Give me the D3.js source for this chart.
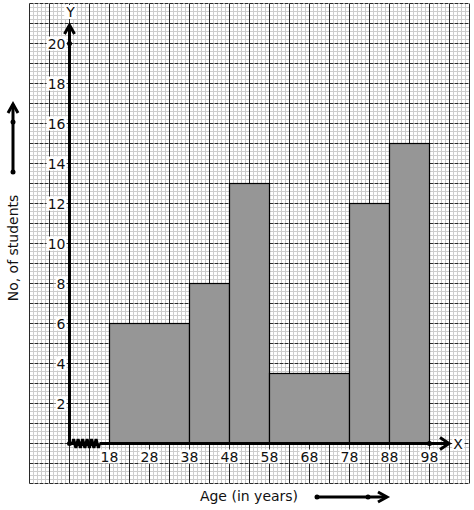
<!DOCTYPE html>
<html>
<head>
<meta charset="utf-8">
<script src="https://cdn.jsdelivr.net/npm/d3@7"></script>
<style>
  html, body { margin: 0; padding: 0; background: #fff; }
  svg { display: block; font-family: "DejaVu Sans", sans-serif; }
  .minor { stroke: #cdcdcd; stroke-width: 1; }
  .major-v { stroke: #2a2a2a; stroke-width: 1; }
  .major-h { stroke: #2a2a2a; stroke-width: 1; stroke-dasharray: 4,1; }
  .bar { fill: #969696; stroke: #000; stroke-width: 1.2; }
  .axis-line { stroke: #000; stroke-width: 3; fill: none; }
  .lbl { font-size: 14px; fill: #111; }
</style>
</head>
<body>
<svg id="chart" width="474" height="510"></svg>
<script>
// class boundaries and frequencies (unequal class widths)
const binEdges = [18, 38, 48, 58, 78, 88, 98];
const frequencies = [6, 8, 13, 3.5, 12, 15];
const xTicks = [18, 28, 38, 48, 58, 68, 78, 88, 98];
const yTicks = [2, 4, 6, 8, 10, 12, 14, 16, 18, 20];
const xTitle = "Age (in years)";
const yTitle = "No, of students";

const svg = d3.select("#chart");

// axis origin sits at value 8 (axis broken between 0 and 18)
const x = d3.scaleLinear().domain([8, 98]).range([69.5, 429.5]);
const y = d3.scaleLinear().domain([0, 20]).range([443.5, 43.5]);

const gxMin = -2, gxMax = 108, gyMin = -2, gyMax = 22;

// graph paper
const grid = svg.append("g");
grid.selectAll("line.mv")
  .data(d3.range(gxMin, gxMax + 0.01, 1).filter((v) => (v - gxMin) % 5 !== 0))
  .join("line").attr("class", "minor")
  .attr("x1", (d) => x(d)).attr("x2", (d) => x(d))
  .attr("y1", y(gyMin)).attr("y2", y(gyMax));
grid.selectAll("line.mh")
  .data(d3.range(0, 121).filter((i) => i % 5 !== 0).map((i) => gyMin + i * 0.2))
  .join("line").attr("class", "minor")
  .attr("y1", (d) => y(d)).attr("y2", (d) => y(d))
  .attr("x1", x(gxMin)).attr("x2", x(gxMax));
grid.selectAll("line.Mh")
  .data(d3.range(gyMin, gyMax + 0.01, 1))
  .join("line").attr("class", "major-h")
  .attr("y1", (d) => y(d)).attr("y2", (d) => y(d))
  .attr("x1", x(gxMin)).attr("x2", x(gxMax));
grid.selectAll("line.Mv")
  .data(d3.range(gxMin, gxMax + 0.01, 5))
  .join("line").attr("class", "major-v")
  .attr("x1", (d) => x(d)).attr("x2", (d) => x(d))
  .attr("y1", y(gyMin)).attr("y2", y(gyMax));

// bars
const bins = frequencies.map((f, i) => ({ x0: binEdges[i], x1: binEdges[i + 1], f }));
svg.append("g").selectAll("rect")
  .data(bins)
  .join("rect").attr("class", "bar")
  .attr("x", (d) => x(d.x0))
  .attr("width", (d) => x(d.x1) - x(d.x0))
  .attr("y", (d) => y(d.f))
  .attr("height", (d) => y(0) - y(d.f));

// axes
const ox = x(8), oy = y(0);
svg.append("line").attr("class", "axis-line")
  .attr("x1", ox).attr("x2", ox).attr("y1", oy).attr("y2", 25);
svg.append("path").attr("class", "axis-line").attr("stroke-width", 2.5)
  .attr("d", `M${ox - 5},34 L${ox},25 L${ox + 5},34`);

// broken x axis zigzag
const zz = [`M${ox},${oy}`, `L${ox + 3},${oy}`];
for (let i = 0; i < 6; i++) {
  const s = ox + 3 + i * 4.5;
  zz.push(`L${s + 1.1},${oy - 4.5}`, `L${s + 3.4},${oy + 4.5}`, `L${s + 4.5},${oy}`);
}
svg.append("path").attr("class", "axis-line").attr("stroke-width", 2.2).attr("d", zz.join(" "));
svg.append("line").attr("class", "axis-line")
  .attr("x1", ox + 30).attr("x2", 449).attr("y1", oy).attr("y2", oy);
svg.append("path").attr("class", "axis-line").attr("stroke-width", 2.5)
  .attr("d", `M440,${oy - 6} L449,${oy} L440,${oy + 6}`);

svg.append("circle").attr("cx", ox).attr("cy", oy).attr("r", 2.5);
svg.append("circle").attr("cx", ox).attr("cy", y(20)).attr("r", 2.5);
svg.append("circle").attr("cx", x(98)).attr("cy", oy).attr("r", 2.5);

// labels with white backing
function label(g, tx, ty, text, anchor) {
  const t = g.append("text").attr("class", "lbl")
    .attr("x", tx).attr("y", ty)
    .attr("text-anchor", anchor)
    .attr("dominant-baseline", "central")
    .text(text);
  const b = t.node().getBBox();
  g.insert("rect", "text")
    .attr("x", b.x - 1).attr("y", b.y + 1)
    .attr("width", b.width + 2).attr("height", b.height - 2)
    .attr("fill", "#fff");
}

const labels = svg.append("g");
yTicks.forEach((v) => {
  const g = labels.append("g");
  label(g, ox - 4, y(v), String(v), "end");
});
xTicks.forEach((v) => {
  const g = labels.append("g");
  label(g, x(v), oy + 13, String(v), "middle");
});
label(labels.append("g"), ox + 1, 12, "Y", "middle");
label(labels.append("g"), 458, oy, "X", "middle");

// axis titles and their arrows
svg.append("text").attr("class", "lbl")
  .attr("x", 249).attr("y", 496)
  .attr("text-anchor", "middle").attr("dominant-baseline", "central")
  .text(xTitle);
svg.append("text").attr("class", "lbl")
  .attr("transform", "translate(13,248) rotate(-90)")
  .attr("text-anchor", "middle").attr("dominant-baseline", "central")
  .text(yTitle);

svg.append("line").attr("class", "axis-line").attr("stroke-width", 2.5)
  .attr("x1", 13).attr("x2", 13).attr("y1", 172).attr("y2", 104);
svg.append("path").attr("class", "axis-line").attr("stroke-width", 2)
  .attr("d", "M8,113 L13,104 L18,113");
svg.append("circle").attr("cx", 13).attr("cy", 122).attr("r", 2.5);
svg.append("circle").attr("cx", 13).attr("cy", 172).attr("r", 2.5);

svg.append("line").attr("class", "axis-line").attr("stroke-width", 2.5)
  .attr("x1", 317).attr("x2", 386).attr("y1", 497).attr("y2", 497);
svg.append("path").attr("class", "axis-line").attr("stroke-width", 2)
  .attr("d", "M378,492 L387,497 L378,502");
svg.append("circle").attr("cx", 317).attr("cy", 497).attr("r", 2.5);
svg.append("circle").attr("cx", 368).attr("cy", 497).attr("r", 2.5);
</script>
</body>
</html>
